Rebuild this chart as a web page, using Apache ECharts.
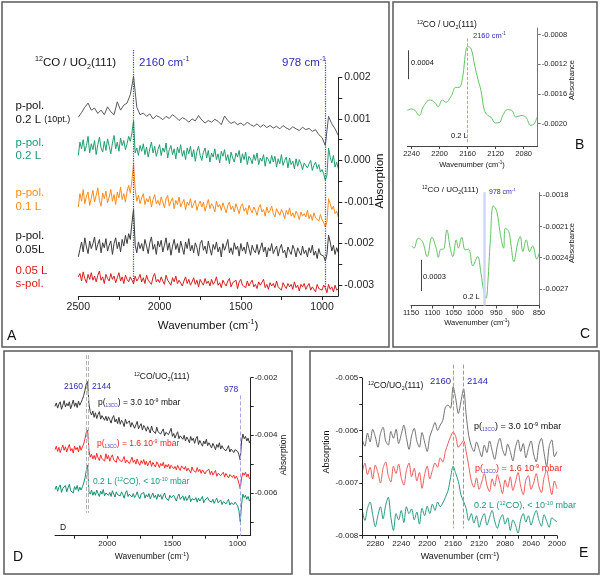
<!DOCTYPE html>
<html><head><meta charset="utf-8">
<script src="https://cdn.jsdelivr.net/npm/echarts@6/dist/echarts.min.js"></script>
<style>html,body{margin:0;padding:0;background:#fff}#c{width:600px;height:576px}</style>
</head><body><div id="c"></div>
<script>
const FONT = '"Liberation Sans", Arial, Helvetica, sans-serif';

// ---------- Panel A : absorption x 1e5 ----------
// smoothed (10pt) trace sampled 2500 -> 900 cm-1, step 20
const A_10pt_wnStart = 2500, A_10pt_wnStep = 20;
const A_ppol02_10pt = [104,115,128,138,121,126,113,121,110,129, 117,110,141,121,133,138,158,202,128,110,
  114,106,112,100,108,104,98,106,101,110, 104,96,103,99,92,100,95,108,97,90,
  96,92,99,94,86,107,96,89,93,86, 90,84,92,86,82,88,80,86,79,84,
  78,82,76,84,78,74,81,76,72,80, 74,77,70,74,62,55,36,106,88,76, 60];
// raw traces sampled 2500 -> 900 cm-1, step 10
const A_wnStart = 2500, A_wnStep = 10;
const A_ppol02 = [12,44,28,50,22,36,58,18,40,26, 48,14,38,56,30,20,46,24,52,34,
  16,42,60,28,44,22,54,36,48,26, 40,58,46,66,95,18,30,12,36,22,
  40,14,32,8,28,44,18,34,10,26, 38,12,30,20,42,6,26,36,14,28,
  4,32,18,38,10,24,2,30,16,34, 8,26,-2,22,34,12,0,20,30,6,
  24,-4,18,8,28,2,16,-6,22,10, 26,0,14,-8,20,6,-4,18,8,24,
  -6,16,2,20,-10,10,4,-8,14,0, 18,-10,6,-2,14,-14,8,2,-8,12,
  -4,10,-16,4,-8,14,-12,0,8,-18, 6,-10,-2,-20,4,-14,2,-8,-22,-6,
  -2,-18,-8,0,-24,-12,-4,-20,-10,-28, -22,-32,-48,-36,30,8,-6,12,-16,-4, -20];
const A_ppol01 = [-112,-80,-98,-70,-104,-86,-76,-108,-90,-72, -100,-84,-66,-96,-110,-78,-92,-74,-102,-88,
  -70,-98,-82,-106,-76,-90,-64,-94,-80,-100, -74,-60,-78,-48,-8,-70,-98,-84,-104,-90,
  -80,-106,-92,-100,-86,-112,-94,-82,-104,-96, -108,-88,-100,-114,-92,-84,-110,-98,-90,-116,
  -96,-106,-88,-112,-102,-94,-118,-100,-108,-92, -114,-104,-96,-120,-106,-98,-112,-100,-122,-108,
  -94,-116,-104,-110,-124,-98,-112,-106,-120,-102, -114,-126,-108,-100,-118,-110,-124,-104,-116,-128,
  -110,-104,-122,-114,-130,-108,-118,-126,-112,-120, -132,-114,-106,-124,-118,-134,-112,-126,-120,-110,
  -128,-136,-116,-124,-132,-118,-126,-140,-120,-130, -114,-134,-126,-138,-122,-130,-142,-124,-134,-128,
  -136,-120,-140,-130,-144,-126,-138,-134,-146,-130, -142,-150,-160,-148,-92,-104,-118,-110,-128,-122, -136];
const A_ppol005 = [-232,-214,-196,-220,-186,-208,-224,-194,-212,-200, -184,-216,-202,-190,-222,-198,-210,-188,-218,-204,
  -194,-226,-200,-186,-212,-196,-220,-190,-206,-180, -200,-176,-190,-150,-118,-204,-222,-196,-212,-200,
  -218,-190,-206,-224,-198,-184,-214,-202,-226,-194, -208,-192,-220,-204,-186,-216,-198,-228,-206,-190,
  -214,-200,-222,-194,-210,-226,-196,-212,-188,-218, -204,-222,-198,-210,-230,-200,-192,-216,-206,-224,
  -194,-212,-228,-202,-214,-196,-220,-208,-232,-200, -216,-204,-190,-222,-210,-226,-198,-214,-206,-230,
  -200,-218,-208,-224,-196,-212,-228,-204,-216,-222, -202,-226,-212,-198,-220,-208,-232,-210,-218,-200,
  -224,-214,-206,-230,-212,-202,-222,-216,-234,-208, -218,-226,-204,-214,-232,-210,-220,-228,-206,-224,
  -216,-232,-210,-222,-204,-228,-218,-236,-212,-226, -222,-230,-242,-226,-180,-196,-218,-204,-226,-210, -222];
const A_spol005 = [-280,-272,-290,-268,-284,-294,-274,-286,-270,-288, -278,-292,-276,-266,-288,-280,-296,-274,-284,-290,
  -272,-286,-278,-294,-282,-270,-290,-280,-296,-276, -286,-292,-280,-288,-296,-278,-290,-284,-274,-292,
  -282,-296,-276,-288,-284,-298,-280,-272,-292,-286, -294,-280,-290,-298,-276,-288,-284,-300,-282,-292,
  -278,-296,-288,-284,-302,-290,-280,-296,-286,-300, -292,-282,-298,-288,-304,-286,-294,-300,-284,-296,
  -290,-302,-286,-298,-292,-280,-300,-294,-306,-288, -296,-302,-290,-284,-304,-294,-298,-288,-308,-292,
  -286,-300,-296,-306,-290,-302,-294,-288,-304,-298, -308,-292,-300,-296,-286,-306,-298,-310,-294,-302,
  -296,-306,-290,-304,-300,-312,-294,-302,-308,-296, -304,-298,-310,-292,-306,-300,-314,-298,-304,-296,
  -310,-302,-296,-312,-304,-300,-316,-298,-308,-304, -312,-300,-306,-318,-298,-310,-304,-316,-300,-312, -308];

// ---------- Panel B : (wavenumber, absorbance) ----------
const B_wn  = [2246,2240,2235,2229,2223,2214,2207,2202,2196,2191,2183,2177,2172,2167,2163,2160,2155,2150,2145,2141,2136,2131,2127,2120,2114,2110,2103,2097,2091,2084,2077,2070,2065,2061];
const B_abs = [-0.00182,-0.00180,-0.00182,-0.00189,-0.00177,-0.00168,-0.00171,-0.00177,-0.00168,-0.00171,-0.00162,-0.00151,-0.00151,-0.00137,-0.00105,-0.00096,-0.00099,-0.00121,-0.00141,-0.00155,-0.00182,-0.00189,-0.00191,-0.00199,-0.00198,-0.00189,-0.00181,-0.00182,-0.00191,-0.00189,-0.00191,-0.00202,-0.00200,-0.00191];

// ---------- Panel C : (wavenumber, absorbance) ----------
const C_wn  = [1148,1143,1133,1123,1112,1101,1091,1086,1080,1074,1066,1058,1052,1044,1039,1031,1023,1015,1005,994,986,980,974,970,964,957,949,941,933,929,921,916,909,900,894,888,880,872,865,855,850];
const C_abs = [-0.002286,-0.002308,-0.002212,-0.002245,-0.002389,-0.002202,-0.002308,-0.002396,-0.002318,-0.002318,-0.002132,-0.002308,-0.002389,-0.002228,-0.002308,-0.002202,-0.002325,-0.002318,-0.002479,-0.002389,-0.00255,-0.00271,-0.00279,-0.002646,-0.002228,-0.0019,-0.001955,-0.002164,-0.002308,-0.002116,-0.002148,-0.002267,-0.002437,-0.00226,-0.002196,-0.002341,-0.002228,-0.002341,-0.002286,-0.002414,-0.002356];

// ---------- Panel D : sampled 2400 -> 900 cm-1 (step 10); absorption x 1e5 ----------
const D_wnStart = 2400, D_wnStep = 10;
const D_p30 = [-300,-288,-306,-292,-284,-310,-296,-280,-302,-290, -298,-284,-308,-294,-278,-300,-288,-304,-282,-296,
  -286,-276,-262,-244,-222,-214,-292,-318,-330,-316, -338,-322,-342,-328,-318,-344,-332,-326,-348,-334,
  -350,-336,-346,-358,-340,-332,-354,-344,-360,-338, -362,-348,-356,-370,-344,-360,-366,-350,-372,-356,
  -358,-376,-364,-352,-378,-368,-360,-382,-366,-374, -386,-370,-380,-392,-368,-384,-378,-394,-372,-388,
  -382,-396,-386,-378,-402,-390,-384,-398,-392,-376, -404,-394,-410,-398,-388,-412,-402,-396,-414,-400,
  -420,-406,-414,-426,-404,-418,-410,-428,-412,-404, -432,-418,-428,-438,-420,-430,-414,-436,-426,-422,
  -444,-428,-438,-450,-432,-442,-426,-448,-436,-446, -440,-454,-446,-436,-458,-448,-442,-460,-450,-444,
  -456,-468,-486,-420,-396,-412,-404,-420,-410,-426, -418];
const D_p16 = [-450,-438,-456,-442,-460,-446,-434,-452,-440,-458, -444,-432,-454,-446,-462,-438,-450,-442,-458,-436,
  -452,-440,-430,-412,-390,-382,-452,-476,-466,-482, -470,-484,-462,-478,-488,-468,-480,-474,-490,-464,
  -482,-470,-490,-476,-468,-486,-480,-494,-472,-484, -478,-492,-484,-474,-496,-486,-480,-498,-488,-476,
  -494,-486,-500,-482,-496,-504,-488,-498,-484,-502, -490,-506,-496,-488,-508,-494,-502,-510,-492,-500,
  -512,-498,-506,-494,-514,-502,-510,-500,-516,-504, -498,-516,-508,-520,-504,-514,-522,-506,-512,-518,
  -508,-524,-514,-520,-530,-510,-522,-516,-528,-512, -526,-518,-532,-520,-514,-534,-524,-530,-518,-536,
  -524,-538,-530,-522,-542,-532,-526,-540,-534,-528, -544,-532,-540,-548,-536,-530,-546,-538,-550,-542,
  -552,-566,-586,-548,-530,-538,-528,-544,-534,-550, -546];
const D_02L = [-588,-576,-594,-580,-572,-598,-584,-590,-574,-596, -582,-570,-592,-586,-600,-578,-588,-574,-594,-580,
  -590,-578,-566,-548,-522,-503,-596,-604,-590,-608, -596,-608,-590,-602,-612,-594,-604,-588,-610,-600,
  -594,-608,-598,-612,-592,-604,-614,-596,-606,-600, -610,-596,-606,-618,-600,-592,-612,-604,-598,-614,
  -602,-616,-608,-596,-612,-620,-604,-610,-598,-618, -606,-614,-602,-620,-610,-600,-616,-608,-622,-604,
  -614,-606,-622,-610,-600,-618,-612,-626,-608,-616, -620,-608,-614,-628,-612,-604,-622,-616,-610,-626,
  -612,-626,-618,-608,-630,-620,-614,-624,-616,-632, -618,-628,-622,-612,-634,-624,-630,-616,-626,-620,
  -632,-622,-636,-626,-618,-634,-628,-624,-640,-630, -626,-638,-630,-622,-642,-634,-628,-640,-632,-636,
  -644,-662,-700,-640,-604,-616,-608,-622,-612,-628, -618];

// ---------- Panel E : sampled 2300 -> 2000 cm-1 (step 4); absorption x 1e5 ----------
const E_wnStart = 2300, E_wnStep = 4;
const E_p30 = [-618,-630,-605,-622,-598,-612,-632,-606,-594,-620, -628,-602,-615,-598,-625,-608,-590,-614,-636,-610,
  -596,-620,-632,-604,-622,-640,-612,-598,-585,-600, -590,-581,-556,-552,-558,-517,-540,-568,-545,-521,
  -570,-610,-630,-640,-622,-636,-650,-628,-642,-620, -638,-655,-630,-615,-636,-648,-626,-640,-658,-632,
  -618,-640,-625,-652,-634,-620,-645,-660,-628,-615, -642,-668,-630,-618,-650,-640];
const E_p16 = [-679,-662,-684,-670,-692,-666,-680,-700,-672,-660, -686,-698,-668,-682,-664,-690,-704,-676,-662,-688,
  -672,-696,-680,-710,-684,-668,-692,-676,-662,-670, -652,-660,-640,-625,-612,-603,-612,-632,-626,-619,
  -640,-668,-696,-708,-690,-712,-698,-682,-704,-716, -692,-706,-684,-700,-720,-694,-708,-688,-714,-698,
  -680,-706,-722,-694,-686,-712,-700,-682,-706,-718, -690,-676,-700,-722,-696,-711];
const E_02L = [-752,-771,-748,-736,-760,-783,-762,-745,-768,-742, -727,-765,-790,-758,-770,-752,-775,-745,-758,-749,
  -770,-755,-778,-748,-762,-744,-758,-740,-752,-736, -745,-738,-727,-715,-690,-668,-682,-697,-722,-735,
  -748,-771,-758,-776,-762,-784,-768,-758,-780,-766, -752,-772,-786,-770,-760,-778,-766,-790,-770,-780,
  -795,-770,-758,-774,-762,-780,-764,-752,-770,-782, -760,-772,-784,-766,-770,-774];

// ---------- tick positions ----------
const A_xTicks = [2500,2250,2000,1750,1500,1250,1000], A_xLabels = [2500,2000,1500,1000];
const A_yTicks = [-300,-250,-200,-150,-100,-50,0,50,100,150,200], A_yLabels = [-300,-200,-100,0,100,200];
const B_xLabels = [2240,2200,2160,2120,2080], B_yLabels = [-0.0008,-0.0012,-0.0016,-0.0020];
const C_xLabels = [1150,1100,1050,1000,950,900,850], C_yLabels = [-0.0018,-0.0021,-0.0024,-0.0027];
const D_xTicks = [2250,2000,1750,1500,1250,1000], D_xLabels = [2000,1500,1000];
const D_yTicks = [-700,-600,-500,-400,-300,-200], D_yLabels = [-600,-400,-200];
const E_xTicks = [2300,2280,2260,2240,2220,2200,2180,2160,2140,2120,2100,2080,2060,2040,2020,2000];
const E_xLabels = [2280,2240,2200,2160,2120,2080,2040,2000];
const E_yTicks = [-800,-750,-700,-650,-600,-550,-500], E_yLabels = [-800,-700,-600,-500];

// ---------- helpers ----------
const pairs = (start, step, arr) => arr.map((v, i) => [start - i * step, v]);
const zip = (xs, ys) => xs.map((x, i) => [x, ys[i]]);
const e5 = v => (v / 1e5).toFixed(3);

function xax(grid, min, max, ticks, labels, o) {
  o = o || {};
  return { type: 'value', gridIndex: grid, min, max, inverse: true, position: 'bottom',
    axisLine: { show: true, onZero: false, lineStyle: { color: o.lc || '#222', width: 1 } },
    axisTick: { show: true, customValues: ticks, length: o.tl || 4, lineStyle: { color: o.lc || '#222' } },
    axisLabel: { customValues: labels, formatter: v => String(Math.round(v)), fontSize: o.fs || 10, color: '#222', fontFamily: FONT, margin: o.m || 5 },
    splitLine: { show: false } };
}
function yax(grid, min, max, ticks, labels, fmt, o) {
  o = o || {};
  return { type: 'value', gridIndex: grid, min, max, position: o.pos || 'right',
    axisLine: { show: o.line !== false, onZero: false, lineStyle: { color: o.lc || '#222', width: 1 } },
    axisTick: { show: true, customValues: ticks, length: o.tl || 4, lineStyle: { color: o.lc || '#222' } },
    axisLabel: { customValues: labels, formatter: fmt, fontSize: o.fs || 10, color: '#222', fontFamily: FONT, margin: o.m || 5 },
    splitLine: { show: false } };
}
function vline(x, y1, y2, color, type, width) {
  return [{ coord: [x, y1], lineStyle: { color, type, width } }, { coord: [x, y2] }];
}
function ser(ax, data, color, o) {
  o = o || {};
  const s = { type: 'line', xAxisIndex: ax, yAxisIndex: ax, data, symbol: 'none', showSymbol: false,
    smooth: o.smooth || false, lineStyle: { color, width: o.w || 1 }, itemStyle: { color },
    silent: true, animation: false, z: o.z || 3, clip: true };
  if (o.ml) s.markLine = { silent: true, symbol: ['none', 'none'], label: { show: false }, animation: false,
    emphasis: { disabled: true }, data: o.ml };
  return s;
}
function T(x, y, text, o) {
  o = o || {};
  const s = o.s || 11, c = o.c || '#111';
  return { type: 'text', x, y, rotation: o.rot || 0, silent: true, z: 10,
    style: { text, fill: c, fontSize: s, fontFamily: FONT, fontWeight: o.w || 'normal',
      align: o.a || 'left', verticalAlign: 'middle', lineHeight: s * 1.25,
      rich: {
        s: { fontSize: s * 0.62, fill: c, fontFamily: FONT, verticalAlign: 'top', lineHeight: s * 0.7 },
        b: { fontSize: s * 0.62, fill: c, fontFamily: FONT, verticalAlign: 'bottom', lineHeight: s * 0.8 },
        m: { fontSize: s * 0.78, fill: c, fontFamily: FONT },
        q: { fontSize: s * 0.55, fill: '#4848c8', fontFamily: FONT, verticalAlign: 'bottom', lineHeight: s * 0.8 }
      } } };
}
function box(x1, y1, x2, y2) {
  return { type: 'rect', shape: { x: x1, y: y1, width: x2 - x1, height: y2 - y1 }, silent: true, z: 1,
    style: { fill: 'none', stroke: '#5a5a5a', lineWidth: 1.5 } };
}

const BLUE = '#2c2cb4';
const option = {
  animation: false,
  backgroundColor: '#fff',
  grid: [
    { left: 78.3, top: 49, width: 260, height: 247 },
    { left: 407.3, top: 28, width: 130.4, height: 118 },
    { left: 411, top: 192.3, width: 128, height: 113.2 },
    { left: 55, top: 355, width: 195.7, height: 180.7 },
    { left: 362.3, top: 363, width: 194.7, height: 172.7 }
  ],
  xAxis: [
    xax(0, 900, 2500, A_xTicks, A_xLabels, { fs: 10.5, m: 6 }),
    xax(1, 2060, 2246, B_xLabels, B_xLabels, { fs: 7.5, tl: 3, m: 4, lc: '#444' }),
    xax(2, 850, 1150, C_xLabels, C_xLabels, { fs: 7.5, tl: 3, m: 3, lc: '#444' }),
    xax(3, 900, 2400, D_xTicks, D_xLabels, { fs: 8, tl: 3, m: 4 }),
    xax(4, 2000, 2300, E_xTicks, E_xLabels, { fs: 8, tl: 3, m: 4 })
  ],
  yAxis: [
    yax(0, -326, 268, A_yTicks, A_yLabels, e5, { line: false, fs: 10.5, m: 6 }),
    yax(1, -0.0023, -0.00071, B_yLabels, B_yLabels, v => v.toFixed(4), { fs: 7.5, tl: 3, m: 4, lc: '#777' }),
    yax(2, -0.00286, -0.00177, C_yLabels, C_yLabels, v => v.toFixed(4), { fs: 7.5, tl: 3, m: 4, lc: '#777' }),
    yax(3, -748, -122, D_yTicks, D_yLabels, e5, { line: false, fs: 8, tl: 3, m: 4 }),
    yax(4, -800, -472, E_yTicks, E_yLabels, e5, { line: false, pos: 'left', fs: 8, tl: 3, m: 4 })
  ],
  series: [
    ser(0, pairs(A_wnStart, A_wnStep, A_spol005), '#d81e1e', { ml: [
      vline(2160, -297, 268, '#3b3bd6', 'dotted', 1.2),
      vline(978, -310, 245, '#3b3bd6', 'dotted', 1.2),
      vline(900, -326, 200, '#222', 'solid', 1) ] }),
    ser(0, pairs(A_wnStart, A_wnStep, A_ppol005), '#3c3c3c'),
    ser(0, pairs(A_wnStart, A_wnStep, A_ppol01), '#ff8a1c'),
    ser(0, pairs(A_wnStart, A_wnStep, A_ppol02), '#1f9e6e'),
    ser(0, pairs(A_10pt_wnStart, A_10pt_wnStep, A_ppol02_10pt), '#5a5a5a'),

    ser(1, zip(B_wn, B_abs), '#62c462', { smooth: 0.4, ml: [
      vline(2160, -0.00085, -0.00225, '#8a8ae0', 'dashed', 0.8),
      vline(2245, -0.00101, -0.00140, '#444', 'solid', 1) ] }),
    ser(2, zip(C_wn, C_abs), '#62c462', { smooth: 0.4, ml: [
      vline(978, -0.00177, -0.00286, '#d3d6f7', 'solid', 2.5),
      vline(1125, -0.00242, -0.00272, '#444', 'solid', 1) ] }),

    ser(3, pairs(D_wnStart, D_wnStep, D_02L), '#15906a', { ml: [
      vline(2160, -122, -669, '#b5b5b5', 'dashed', 1),
      vline(2144, -122, -669, '#b5b5b5', 'dashed', 1),
      vline(978, -262, -748, '#a8a8e8', 'dashed', 1),
      vline(900, -748, -200, '#222', 'solid', 1) ] }),
    ser(3, pairs(D_wnStart, D_wnStep, D_p16), '#ff2a2a'),
    ser(3, pairs(D_wnStart, D_wnStep, D_p30), '#3a3a3a'),

    ser(4, pairs(E_wnStart, E_wnStep, E_02L), '#2a9a82', { smooth: 0.3, ml: [
      vline(2160, -475, -786, '#9a9ac8', 'dashed', 1),
      vline(2144, -475, -786, '#999999', 'dashed', 1),
      vline(2300, -800, -500, '#222', 'solid', 1) ] }),
    ser(4, pairs(E_wnStart, E_wnStep, E_p16), '#f25a5a', { smooth: 0.3 }),
    ser(4, pairs(E_wnStart, E_wnStep, E_p30), '#707070', { smooth: 0.3 })
  ],
  graphic: { elements: [
    box(2, 2, 389, 347), box(393, 2, 597, 347), box(4, 351, 292, 574), box(310, 351, 599, 574),
    // Panel A
    T(35, 63, '{s|12}CO / UO{b|2}(111)', { s: 11.5 }),
    T(139, 63, '2160 cm{s|-1}', { s: 11.5, c: BLUE }),
    T(282, 63, '978 cm{s|-1}', { s: 11.5, c: BLUE }),
    T(15.5, 106, 'p-pol.', { s: 11.5 }),
    T(15.5, 120, '0.2 L {m|(10pt.)}', { s: 11.5 }),
    T(15.5, 142.5, 'p-pol.', { s: 11.5, c: '#1a9a70' }),
    T(15.5, 156, '0.2 L', { s: 11.5, c: '#1a9a70' }),
    T(15.5, 193, 'p-pol.', { s: 11.5, c: '#ff8c1a' }),
    T(15.5, 207, '0.1 L', { s: 11.5, c: '#ff8c1a' }),
    T(15.5, 235.5, 'p-pol.', { s: 11.5 }),
    T(15.5, 249.5, '0.05L', { s: 11.5 }),
    T(15.5, 271, '0.05 L', { s: 11.5, c: '#dd1a1a' }),
    T(15.5, 284, 's-pol.', { s: 11.5, c: '#dd1a1a' }),
    T(379.5, 181, 'Absorption', { s: 11.5, a: 'center', rot: Math.PI / 2 }),
    T(208, 326, 'Wavenumber (cm{s|-1})', { s: 11.5, a: 'center' }),
    T(7, 336, 'A', { s: 14 }),
    // Panel B
    T(417, 25, '{s|12}CO / UO{b|2}(111)', { s: 8.5 }),
    T(473, 36, '2160 cm{s|-1}', { s: 7.5, c: BLUE }),
    T(411, 63, '0.0004', { s: 7.5 }),
    T(451, 136, '0.2 L', { s: 7.5 }),
    T(572, 80, 'Absorbance', { s: 7.5, a: 'center', rot: Math.PI / 2 }),
    T(472, 165, 'Wavenumber (cm{s|-1})', { s: 7.5, a: 'center' }),
    T(575, 145, 'B', { s: 14 }),
    // Panel C
    T(422, 190, '{s|12}CO / UO{b|2}(111)', { s: 8 }),
    T(489, 192, '978 cm{s|-1}', { s: 7, c: BLUE }),
    T(423, 277, '0.0003', { s: 7.5 }),
    T(463, 297, '0.2 L', { s: 7.5 }),
    T(572, 243, 'Absorbance', { s: 7.5, a: 'center', rot: Math.PI / 2 }),
    T(477, 323, 'Wavenumber (cm{s|-1})', { s: 7.5, a: 'center' }),
    T(580, 334, 'C', { s: 14 }),
    // Panel D
    T(134, 377, '{s|12}CO/UO{b|2}(111)', { s: 8.5 }),
    T(64, 387, '2160', { s: 8.5, c: BLUE }),
    T(92, 387, '2144', { s: 8.5, c: BLUE }),
    T(224, 390, '978', { s: 8.5, c: BLUE }),
    T(98, 403, 'p({q|13CO}) = 3.0 10{s|-9} mbar', { s: 8.5, c: '#111' }),
    T(97, 444, 'p({q|13CO}) = 1.6 10{s|-9} mbar', { s: 8.5, c: '#ee2222' }),
    T(93, 482, '0.2 L ({s|12}CO), < 10{s|-10} mbar', { s: 8.5, c: '#1a9a78' }),
    T(60, 528, 'D', { s: 8.5 }),
    T(13, 557, 'D', { s: 14 }),
    T(152, 557, 'Wavenumber (cm{s|-1})', { s: 8.5, a: 'center' }),
    T(283.5, 455, 'Absorption', { s: 8.5, a: 'center', rot: Math.PI / 2 }),
    // Panel E
    T(368, 386, '{s|12}CO/UO{b|2}(111)', { s: 8.5 }),
    T(430, 381.5, '2160', { s: 9.5, c: BLUE }),
    T(467, 381.5, '2144', { s: 9.5, c: BLUE }),
    T(474, 427, 'p({q|13CO}) = 3.0 10{s|-9} mbar', { s: 9, c: '#111' }),
    T(475, 469, 'p({q|13CO}) = 1.6 10{s|-9} mbar', { s: 9, c: '#ee2222' }),
    T(474, 506, '0.2 L ({s|12}CO), < 10{s|-10} mbar', { s: 9, c: '#1a9a78' }),
    T(460, 557, 'Wavenumber (cm{s|-1})', { s: 9, a: 'center' }),
    T(579, 553, 'E', { s: 14 }),
    T(326.5, 452, 'Absorption', { s: 9, a: 'center', rot: Math.PI / 2 })
  ] }
};
const chart = echarts.init(document.getElementById('c'), null, { renderer: 'canvas' });
chart.setOption(option);
</script></body></html>
